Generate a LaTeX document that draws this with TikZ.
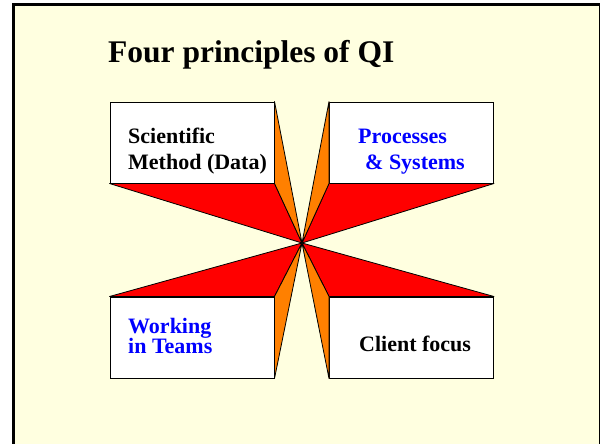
\documentclass[tikz,border=0pt]{standalone}
\usepackage{fontspec}
\setmainfont{Liberation Serif}
\definecolor{bgyellow}{RGB}{255,255,224}
\definecolor{qred}{RGB}{255,0,0}
\definecolor{qorange}{RGB}{255,128,0}
\definecolor{qblue}{RGB}{0,0,255}
\begin{document}
\begin{tikzpicture}[x=1pt,y=-1pt,
  facebox/.style={draw=black,line width=1pt,fill=white,minimum width=164pt,minimum height=81pt,inner sep=0pt},
  redface/.style={fill=qred,draw=black,line width=0.8pt,line join=round},
  orangeface/.style={fill=qorange,draw=black,line width=0.8pt,line join=round},
  label/.style={inner sep=0pt,anchor=base west,font=\bfseries}
]
\useasboundingbox (0,0) rectangle (602,444);
% frame
\fill[bgyellow] (13.5,4.5) rectangle (599.5,446);
\draw[line width=3pt] (13.5,446) -- (13.5,4.5) -- (599.5,4.5);
\draw[line width=1pt] (599.5,4.5) -- (599.5,446);
% title
\node[label,font=\bfseries\fontsize{31.5}{36}\selectfont] (title) at (108,63) {Four principles of QI};
% centre
\coordinate (C) at (302,243);
% boxes
\node[facebox] (tl) at (192,142.5) {};
\node[facebox] (tr) at (411.5,142.5) {};
\node[facebox] (bl) at (192,337.5) {};
\node[facebox] (br) at (411.5,337.5) {};
% faces
\draw[redface] (tl.south west) -- (tl.south east) -- (C) -- cycle;
\draw[orangeface] (tl.north east) -- (tl.south east) -- (C) -- cycle;
\draw[redface] (tr.south west) -- (tr.south east) -- (C) -- cycle;
\draw[orangeface] (tr.north west) -- (tr.south west) -- (C) -- cycle;
\draw[redface] (bl.north west) -- (bl.north east) -- (C) -- cycle;
\draw[orangeface] (bl.north east) -- (bl.south east) -- (C) -- cycle;
\draw[redface] (br.north west) -- (br.north east) -- (C) -- cycle;
\draw[orangeface] (br.north west) -- (br.south west) -- (C) -- cycle;
% texts
\node[label] (ttl) at (128,143) {\fontsize{22}{26}\selectfont\begin{tabular}[t]{@{}l@{}}Scientific\\Method (Data)\end{tabular}};
\node[label,text=qblue] (ttr) at (358,143) {\fontsize{22}{26}\selectfont\begin{tabular}[t]{@{}l@{}}Processes\\\hspace{7pt}\& Systems\end{tabular}};
\node[label,text=qblue] (tbl) at (128,333) {\fontsize{22}{19}\selectfont\begin{tabular}[t]{@{}l@{}}Working\\in Teams\end{tabular}};
\node[label] (tbr) at (359,351) {\fontsize{22}{26}\selectfont Client focus};
\end{tikzpicture}
\end{document}
